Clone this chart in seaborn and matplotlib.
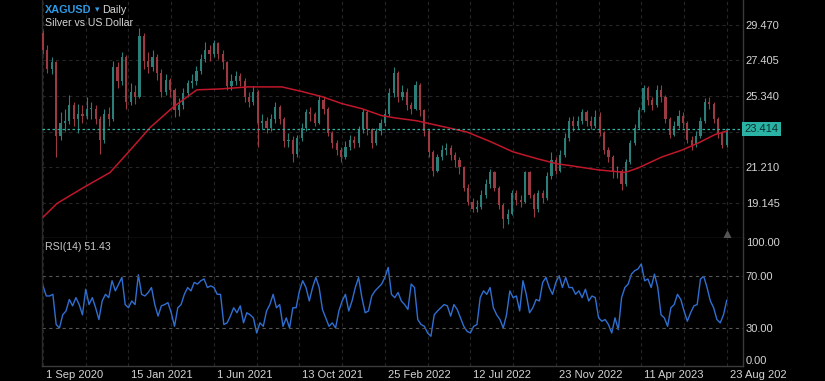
import numpy as np
import pandas as pd
import matplotlib
matplotlib.use("Agg")
import matplotlib.pyplot as plt
import matplotlib.transforms as mtransforms
import seaborn as sns

# ---- data (one candle ~ one week) ----
first_open = 29.0
closes = [28.0, 26.9, 27.3, 23.0, 23.8, 23.9, 24.8, 24.0, 24.3, 24.2,
          24.6, 24.6, 24.0, 22.8, 24.3, 24.0, 27.0, 26.2, 27.6, 25.0,
          25.6, 25.3, 28.8, 27.4, 27.0, 27.6, 26.7, 25.6, 26.3, 25.7,
          24.5, 24.8, 25.5, 26.1, 26.2, 26.8, 27.5, 28.0, 27.8, 28.4,
          27.8, 27.3, 25.9, 26.2, 26.5, 26.2, 25.3, 25.0, 25.6, 23.8,
          23.9, 23.5, 24.0, 24.7, 24.0, 22.7, 22.8, 22.0, 22.9, 23.5,
          24.4, 24.3, 23.8, 25.1, 24.6, 23.2, 22.6, 22.2, 21.8, 22.4,
          22.8, 22.6, 23.4, 24.4, 23.4, 22.6, 23.3, 23.8, 24.3, 25.5,
          26.7, 25.3, 25.6, 24.8, 24.6, 26.0, 24.5, 23.3, 22.1, 21.0,
          21.8, 22.2, 22.3, 21.9, 21.6, 21.2, 20.0, 19.2, 18.8, 18.9,
          19.6, 20.2, 20.9, 20.0, 19.0, 18.2, 18.5, 19.7, 19.3, 19.2,
          20.9, 19.6, 18.8, 19.7, 19.4, 20.7, 21.6, 21.0, 21.9, 22.9,
          23.9, 23.6, 23.9, 24.4, 23.9, 23.6, 24.1, 23.2, 22.2, 21.8,
          20.9, 21.0, 20.2, 21.5, 22.6, 23.5, 24.5, 25.8, 25.1, 24.8,
          25.7, 25.3, 24.0, 23.1, 23.6, 24.2, 23.8, 22.8, 22.5, 23.0,
          23.9, 25.0, 24.9, 24.0, 23.2, 22.5, 23.414]
highs = [29.2, 28.3, 27.6, 27.4, 24.4, 24.6, 25.4, 25.0, 24.9, 24.8,
         25.3, 25.0, 24.8, 24.2, 24.6, 24.7, 27.4, 27.3, 27.9, 27.7,
         26.1, 26.0, 29.3, 29.0, 27.9, 28.0, 27.8, 26.9, 26.6, 26.4,
         25.8, 25.2, 25.8, 26.3, 26.6, 27.1, 27.8, 28.5, 28.3, 28.6,
         28.5, 28.0, 27.4, 26.6, 26.8, 26.7, 26.4, 25.6, 25.9, 25.7,
         24.3, 24.1, 24.3, 25.0, 24.8, 24.1, 23.2, 23.0, 23.1, 23.8,
         24.6, 24.7, 24.4, 25.4, 25.3, 24.7, 23.3, 22.8, 22.4, 22.7,
         23.1, 23.0, 23.6, 24.6, 24.5, 23.5, 23.5, 24.0, 24.6, 25.8,
         27.0, 26.8, 26.0, 25.8, 25.0, 26.2, 26.1, 24.6, 23.4, 22.2,
         22.0, 22.5, 22.6, 22.5, 22.1, 21.8, 21.3, 20.2, 19.4, 19.3,
         19.9, 20.5, 21.1, 21.0, 20.1, 19.1, 18.8, 19.9, 19.9, 19.6,
         21.0, 21.0, 19.7, 19.9, 19.9, 20.9, 22.1, 21.8, 22.2, 23.2,
         24.1, 24.2, 24.2, 24.6, 24.5, 24.2, 24.5, 24.4, 23.3, 22.4,
         21.9, 21.3, 21.1, 21.7, 22.8, 23.7, 24.7, 26.0, 25.9, 25.3,
         26.0, 26.0, 25.4, 24.1, 23.9, 24.5, 24.4, 23.9, 23.0, 23.3,
         24.1, 25.2, 25.3, 25.0, 24.1, 23.3, 23.5]
lows = [27.8, 26.7, 26.6, 21.8, 22.8, 23.3, 23.7, 23.6, 23.2, 23.8,
        24.0, 24.0, 23.7, 22.0, 22.6, 23.6, 23.9, 25.8, 26.0, 24.6,
        24.8, 24.9, 25.2, 26.9, 26.7, 26.8, 26.3, 25.3, 25.4, 25.3,
        24.1, 24.2, 24.6, 25.3, 25.8, 26.0, 26.6, 27.3, 27.4, 27.6,
        27.5, 26.9, 25.7, 25.7, 26.0, 25.9, 25.0, 24.7, 24.8, 22.4,
        23.4, 23.2, 23.3, 23.8, 23.7, 22.4, 22.4, 21.5, 21.8, 22.7,
        23.3, 23.9, 23.6, 23.7, 24.3, 23.0, 22.3, 21.9, 21.5, 21.7,
        22.2, 22.3, 22.4, 23.2, 23.1, 22.3, 22.5, 23.1, 23.6, 24.2,
        25.3, 25.0, 25.1, 24.5, 24.3, 24.5, 24.2, 23.0, 21.8, 20.7,
        20.9, 21.6, 21.9, 21.6, 21.2, 20.8, 19.8, 19.0, 18.6, 18.6,
        18.8, 19.4, 20.0, 19.8, 18.8, 17.7, 17.9, 18.4, 19.0, 18.9,
        19.1, 19.4, 18.3, 18.6, 19.1, 19.3, 20.5, 20.8, 20.9, 21.8,
        22.7, 23.3, 23.4, 23.7, 23.6, 23.4, 23.5, 23.0, 22.0, 21.5,
        20.6, 20.6, 19.9, 20.1, 21.4, 22.5, 23.4, 24.4, 24.8, 24.5,
        24.7, 25.0, 23.8, 22.9, 23.0, 23.5, 23.5, 22.6, 22.2, 22.4,
        22.9, 23.8, 24.6, 23.8, 22.9, 22.3, 22.4]

# 200-day moving average (candle position, value)
ma_pos = [0, 3.2, 9.1, 15.3, 19.2, 24.4, 29.7, 35.1, 40.4, 46.8, 54.5,
          59.1, 63.7, 68.2, 72.8, 77.3, 80.3, 85.3, 90.6, 96.7, 102,
          107.2, 112.7, 117.3, 120.2, 126.6, 132.8, 135.7, 141.2, 145.8,
          149.4, 153.3, 156]
ma_val = [18.3, 19.1, 20.0, 20.9, 22.0, 23.5, 24.7, 25.7, 25.75, 25.87,
          25.87, 25.6, 25.3, 24.9, 24.6, 24.2, 24.07, 23.9, 23.6, 23.25,
          22.7, 22.1, 21.7, 21.4, 21.3, 21.05, 20.9, 21.15, 21.8, 22.2,
          22.6, 23.1, 23.3]

rsi_vals = [62.6, 54.7, 54.7, 56, 32.4, 29.7, 40, 43, 52, 47, 53.4, 48, 40,
            60, 48, 53.4, 45.5, 36.3, 50.8, 56, 53.4, 66.6, 58.7, 64, 69.2,
            48, 45.5, 50.8, 48, 71.3, 56, 54.7, 57.4, 61.3, 48, 39, 47, 48,
            49.5, 41.6, 31, 45.5, 48, 56, 61.3, 58.7, 65.3, 64, 66.6, 68,
            61.3, 62.6, 61.3, 56, 56, 32.4, 33.7, 39, 45.5, 41.6, 47, 33.7,
            41.6, 40, 37.6, 25.8, 33.7, 31, 43, 48, 56, 45.5, 48, 31, 37.6,
            29.7, 45.5, 45.5, 58.7, 66.6, 61.3, 50.8, 61.3, 69.2, 61.3,
            44.2, 37.6, 31, 33.7, 29.7, 43, 50.8, 56, 43, 50.8, 61.3, 69.2,
            53.4, 41.6, 43, 54.7, 58.7, 61.3, 64, 69.2,
            77, 56, 53.4, 57.4, 50.8, 48, 44.2, 64, 61.3, 36.3, 32.4, 31,
            25.8, 23.2, 40, 43, 45.5, 48, 47, 39, 48, 44.2, 37.6, 31, 27.1,
            25.8, 31, 32.4, 53.4, 58.7, 56, 61.3, 45.5, 40, 36.3, 29.7, 40,
            58.7, 53.4, 54.7, 43, 66.6, 56, 41.6, 45.5, 52, 50.8, 65.3,
            69.2, 61.3, 56, 65.3, 70.5, 61.3, 69.2, 61.3, 61.3, 56, 58.7,
            53.4, 60, 50.8, 54.7, 53.4, 37.6, 35, 36.3, 32.4, 25.8, 37.6,
            28.4, 53.4, 61.3, 64, 71.8, 74.5, 75.8, 79.7, 66.6, 68, 61.3,
            71.8, 61.3, 40, 37.6, 31, 45.5, 48, 56, 52, 43, 35, 41.6, 47,
            48, 68, 70, 61.3, 50.8, 45.5, 36.3, 33.7, 40, 51.43]

price_ticks = [19.145, 21.210, 23.275, 25.340, 27.405, 29.470]
price_labels = ["19.145", "21.210", "", "25.340", "27.405", "29.470"]
last_price = 23.414
date_pos = [0, 19.5, 39, 58.5, 78, 97.5, 117, 136.5, 156]
date_labels = ["1 Sep 2020", "15 Jan 2021", "1 Jun 2021", "13 Oct 2021",
               "25 Feb 2022", "12 Jul 2022", "23 Nov 2022", "11 Apr 2023",
               "23 Aug 202"]
rsi_ticks = [0, 30, 70, 100]

# ---- frame ----
df = pd.DataFrame({"close": closes, "high": highs, "low": lows})
df["open"] = [first_open] + closes[:-1]
df["pos"] = np.arange(len(df))
df["up"] = df["close"] >= df["open"]

sns.set_style("dark", {"axes.facecolor": "black", "figure.facecolor": "black"})
plt.rcParams['font.family'] = ['Liberation Sans', 'DejaVu Sans']

W, H = 825, 381
fig = plt.figure(figsize=(8.25, 3.81), dpi=100, facecolor="black")
ax = fig.add_axes([42 / W, 1 - 238 / H, 701 / W, 238 / H])
ax_rsi = fig.add_axes([42 / W, 1 - 366 / H, 701 / W, 128 / H], sharex=ax)

up_col, dn_col = "#2c7f78", "#9c3a43"
grid_col = "#262626"
frame_col = "#3a3a3a"
text_col = "#d4d4d4"

# candles
cols = np.where(df["up"], up_col, dn_col)
ax.vlines(df["pos"], df["low"], df["high"], colors=cols, linewidth=0.8, zorder=2)
body_lo = df[["open", "close"]].min(axis=1)
body_h = (df["close"] - df["open"]).abs().clip(lower=0.04)
ax.bar(df["pos"], body_h, bottom=body_lo, width=0.5, color=cols,
       linewidth=0, zorder=3)

# moving average
sns.lineplot(x=ma_pos, y=ma_val, ax=ax, color="#c0172a", linewidth=1.1,
             zorder=4, legend=False)

# last price line and tag
ax.axhline(last_price, color="#2ab3a4", linestyle=(0, (2, 2)), linewidth=0.9, zorder=5)
ax.text(1.002, last_price, f"{last_price:.3f}", transform=ax.get_yaxis_transform(),
        ha="left", va="center", fontsize=8, color="#0b2d2a",
        bbox=dict(boxstyle="square,pad=0.2", fc="#2ab3a4", ec="none"), clip_on=False)

ax.plot([156], [17.22], marker="^", color="#555555", markersize=7,
        linestyle="none", clip_on=False, zorder=6)

# rsi
rsi_pos = np.linspace(0, 156, len(rsi_vals))
sns.lineplot(x=rsi_pos, y=rsi_vals, ax=ax_rsi, color="#2f6fd2", linewidth=1.0,
             legend=False)
for lvl in (30, 70):
    ax_rsi.axhline(lvl, color="#555555", linestyle=(0, (3, 3)), linewidth=0.8)

# axes styling
grid_x = np.arange(0, 156.1, 9.75)
for a in (ax, ax_rsi):
    a.set_facecolor("black")
    a.set_xlim(-0.23, 159.7)
    a.set_xticks(grid_x)
    a.tick_params(axis="x", length=0, labelbottom=False)
    a.yaxis.tick_right()
    a.tick_params(axis="y", length=0, pad=2, labelsize=8, labelcolor=text_col)
    a.grid(True, axis="x", color=grid_col, linestyle=(0, (3, 3)), linewidth=0.8)
    a.set_xlabel("")
    a.set_ylabel("")
    a.spines["top"].set_visible(False)
    for s in ("left", "right", "bottom"):
        a.spines[s].set_visible(True)
        a.spines[s].set_color(frame_col)
        a.spines[s].set_linewidth(1.0)
ax.spines["left"].set_color("#2a2a2a")
ax_rsi.spines["left"].set_color("#2a2a2a")

ax.set_ylim(17.09, 30.92)
ax.set_yticks(price_ticks)
ax.set_yticklabels(price_labels)
ax.grid(True, axis="y", color=grid_col, linestyle=(0, (3, 3)), linewidth=0.8)

ax_rsi.set_ylim(0, 100)
ax_rsi.set_yticks(rsi_ticks)
ax_rsi.set_yticklabels([f"{v:.2f}" for v in rsi_ticks])
ax_rsi.grid(False, axis="y")
tl = ax_rsi.get_yticklabels()
tl[0].set_verticalalignment("bottom")
tl[-1].set_verticalalignment("top")

# date labels under the rsi pane
off = mtransforms.ScaledTranslation(2 / 72, -3 / 72, fig.dpi_scale_trans)
for p, lab in zip(date_pos, date_labels):
    ax_rsi.text(p, 0, lab, transform=ax_rsi.get_xaxis_transform() + off,
                ha="left", va="top", fontsize=8, color=text_col, clip_on=False)

# header texts
fig.text(45 / W, 1 - 10 / H, "XAGUSD", ha="left", va="center", fontsize=7.8,
         fontweight="bold", color="#2f9be6")
fig.text(95 / W, 1 - 10 / H, "▾", ha="left", va="center", fontsize=6.5,
         color="#2f9be6", family=["DejaVu Sans"])
fig.text(102 / W, 1 - 10 / H, "Daily", ha="left", va="center", fontsize=7.8,
         color=text_col)
fig.text(45 / W, 1 - 23 / H, "Silver vs US Dollar", ha="left", va="center",
         fontsize=7.6, color=text_col)
fig.text(45 / W, 1 - 247 / H, "RSI(14) 51.43", ha="left", va="center",
         fontsize=7.6, color="#c8c8c8")

fig.savefig("out.png", dpi=100, facecolor="black")
